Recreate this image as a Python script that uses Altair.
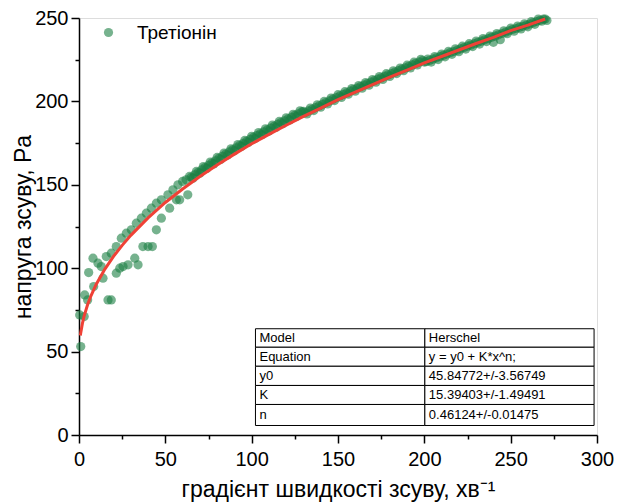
import altair as alt
import pandas as pd

series_name = "Третіонін"

# scattered measurements at low shear rate
low_x = [0.4, 1.0, 3.0, 3.3, 5.0, 5.6, 8.1, 8.5, 11.0, 12.9, 13.9, 15.8, 16.8, 18.7,
         18.7, 21.6, 23.6, 25.5, 28.4, 21.6, 24.5, 27.4, 30.3, 32.3, 34.2, 33.2,
         37.0, 40.0, 42.5, 36.1, 39.0, 41.9, 44.8, 44.8, 47.7, 47.7, 51.5, 52.5,
         54.4, 57.3, 56.4, 58.3, 60.0, 62.0, 63.0]
low_y = [72, 53, 71, 84, 81, 97.4, 106, 89, 103, 101, 94, 107, 81, 81,
         109, 97, 100, 101, 102, 113, 118, 121, 123, 106, 102, 127,
         113, 113, 113, 130, 133, 136, 123, 139, 130, 141, 144, 136,
         147, 150, 141, 141, 152, 153, 144]

# dense band of measurements (even shear rates)
band_x = [64, 66, 68, 70, 72, 74, 76, 78, 80, 82, 84, 86, 88, 90, 92, 94, 96, 98,
          100, 102, 104, 106, 108, 110, 112, 114, 116, 118, 120, 122, 124, 126, 128,
          130, 132, 134, 136, 138, 140, 142, 144, 146, 148, 150, 152, 154, 156, 158,
          160, 162, 164, 166, 168, 170, 172, 174, 176, 178, 180, 182, 184, 186, 188,
          190, 192, 194, 196, 198, 200, 202, 204, 206, 208, 210, 212, 214, 216, 218,
          220, 222, 224, 226, 228, 230, 232, 234, 236, 238, 240, 242, 244, 246, 248,
          250, 252, 254, 256, 258, 260, 262, 264, 266, 268, 270, 271]
band_y = [155.0, 154.0, 158.0, 157.0, 160.9, 159.8, 163.6, 162.5, 166.4, 165.2,
          169.0, 167.8, 171.6, 170.4, 174.1, 172.9, 176.6, 175.4, 179.1, 177.7,
          181.3, 180.0, 183.6, 182.2, 185.8, 184.4, 188.0, 186.6, 190.2, 188.8,
          192.3, 190.9, 194.4, 194.0, 192.5, 196.0, 194.5, 198.0, 196.5, 200.0,
          198.5, 202.0, 200.5, 204.0, 202.4, 205.8, 204.3, 207.7, 206.1, 209.5,
          207.9, 211.3, 209.7, 213.1, 211.5, 214.9, 213.2, 216.6, 215.0, 218.3,
          216.7, 220.0, 218.4, 221.7, 220.1, 223.5, 221.9, 225.2, 223.6, 225.4,
          223.6, 226.9, 225.1, 228.4, 226.7, 230.0, 228.2, 231.5, 229.8, 233.1,
          231.4, 234.6, 232.9, 236.2, 234.4, 237.7, 235.9, 239.2, 235.4, 240.7,
          237.0, 242.3, 240.6, 243.9, 242.1, 245.2, 243.4, 246.5, 244.7, 247.9,
          246.2, 249.4, 248.1, 249.4, 248.5]

# dense band of measurements (odd shear rates)
band2_x = [65, 67, 69, 71, 73, 75, 77, 79, 81, 83, 85, 87, 89, 91, 93, 95, 97, 99,
           101, 103, 105, 107, 109, 111, 113, 115, 117, 119, 121, 123, 125, 127, 129,
           131, 133, 135, 137, 139, 141, 143, 145, 147, 149, 151, 153, 155, 157, 159,
           161, 163, 165, 167, 169, 171, 173, 175, 177, 179, 181, 183, 185, 187, 189,
           191, 193, 195, 197, 199, 201, 203, 205, 207, 209, 211, 213, 215, 217, 219,
           221, 223, 225, 227, 229, 231, 233, 235, 237, 239, 241, 243, 245, 247, 249,
           251, 253, 255, 257, 259, 261, 263, 265, 267, 269]
band2_y = [154.5, 156.0, 157.5, 158.9, 160.3, 161.7, 163.0, 164.4, 165.8, 167.1,
           168.4, 169.7, 171.0, 172.2, 173.5, 174.7, 176.0, 177.2, 178.4, 179.5,
           180.6, 181.8, 182.9, 184.0, 185.1, 186.2, 187.3, 188.4, 189.5, 190.5,
           191.6, 192.6, 193.7, 193.3, 194.3, 195.3, 196.3, 197.3, 198.3, 199.3,
           200.3, 201.3, 202.3, 203.3, 204.2, 205.1, 206.1, 207.0, 207.9, 208.8,
           209.7, 210.6, 211.5, 212.4, 213.3, 214.1, 215.0, 215.9, 216.7, 217.6,
           218.4, 219.3, 220.1, 221.0, 221.9, 222.8, 223.6, 224.5, 223.8, 224.6,
           225.3, 226.1, 226.8, 227.6, 228.4, 229.2, 229.9, 230.7, 231.5, 232.3,
           233.1, 233.8, 234.6, 235.4, 236.1, 236.9, 237.6, 238.4, 239.1, 239.9,
           240.7, 241.5, 242.3, 243.1, 243.7, 244.4, 245.0, 245.7, 246.4, 247.1,
           247.9, 248.6, 249.3]

# fitted Herschel curve
fit_x = [0.8, 1, 2, 3, 5, 7, 10, 15, 20, 25, 30, 40, 50, 60, 70, 80, 90, 100, 110,
         120, 130, 140, 150, 160, 170, 180, 190, 200, 210, 220, 230, 240, 250, 260, 270]
fit_y = [59.7, 61.2, 67.0, 71.4, 78.2, 83.6, 90.4, 99.5, 107.1, 113.7, 119.7, 130.2,
         139.4, 147.5, 155.0, 161.9, 168.4, 174.6, 180.2, 185.7, 191.0, 196.0, 201.0,
         205.6, 210.1, 214.5, 218.7, 223.1, 226.9, 230.8, 234.7, 238.4, 242.4, 245.7, 249.4]

# fit-result table
table_labels = ["Model", "Equation", "y0", "K", "n"]
table_values = ["Herschel", "y = y0 + K*x^n;", "45.84772+/-3.56749",
                "15.39403+/-1.49491", "0.46124+/-0.01475"]
table_row_edges = [63.7, 52.6, 41.2, 29.7, 18.3, 5.7]
table_cols = [102.2, 200.3, 298.3]

FONT = "Liberation Sans"

all_x = low_x + band_x + band2_x
all_y = low_y + band_y + band2_y
pts = pd.DataFrame({"x": all_x, "y": all_y, "series": [series_name] * len(all_x)})
fit = pd.DataFrame({"x": fit_x, "y": fit_y})

cells = []
for i, (lab, val) in enumerate(zip(table_labels, table_values)):
    top, bot = table_row_edges[i], table_row_edges[i + 1]
    cells.append({"x": table_cols[0], "x2": table_cols[1], "y": bot, "y2": top,
                  "ym": (top + bot) / 2, "text": lab})
    cells.append({"x": table_cols[1], "x2": table_cols[2], "y": bot, "y2": top,
                  "ym": (top + bot) / 2, "text": val})
cells = pd.DataFrame(cells)


def tick_cond(big, small):
    return {"condition": {"test": "datum.value % 50 === 0", "value": big}, "value": small}


common = dict(labelExpr="datum.value % 50 === 0 ? datum.label : ''",
              tickSize=tick_cond(8, 4), grid=False, domainColor="black",
              tickColor="black", domainWidth=1.5, tickWidth=1.5, labelColor="black",
              labelFont=FONT, labelFontSize=20, titleFont=FONT, titleFontSize=23,
              titleFontWeight="normal", titleColor="black", labelFlush=False)
xaxis = alt.Axis(values=list(range(0, 301, 25)), title="градієнт швидкості зсуву, хв⁻¹",
                 labelPadding=6, titlePadding=9, **common)
yaxis = alt.Axis(values=list(range(0, 251, 25)), title="напруга зсуву, Pa",
                 labelPadding=3, titlePadding=-1, **common)
xs = alt.Scale(domain=[0, 300], nice=False, zero=False)
ys = alt.Scale(domain=[0, 250], nice=False, zero=False)

scatter = alt.Chart(pts).mark_circle(size=85, opacity=0.6).encode(
    x=alt.X("x:Q", scale=xs, axis=xaxis),
    y=alt.Y("y:Q", scale=ys, axis=yaxis),
    color=alt.Color("series:N",
                    scale=alt.Scale(domain=[series_name], range=["#1b7f42"]),
                    legend=alt.Legend(orient="none", legendX=20, legendY=5, title=None,
                                      labelFont=FONT, labelFontSize=19, labelColor="black",
                                      symbolSize=85, symbolOpacity=0.6, symbolType="circle",
                                      symbolStrokeWidth=0, labelOffset=19)),
)

line = alt.Chart(fit).mark_line(color="#ef4136", strokeWidth=3).encode(
    x=alt.X("x:Q", scale=xs, axis=xaxis),
    y=alt.Y("y:Q", scale=ys, axis=yaxis),
)

rects = alt.Chart(cells).mark_rect(fill="white", stroke="black", strokeWidth=1).encode(
    x=alt.X("x:Q", scale=xs, axis=xaxis), x2="x2:Q",
    y=alt.Y("y:Q", scale=ys, axis=yaxis), y2="y2:Q",
)

texts = alt.Chart(cells).mark_text(align="left", baseline="middle", dx=4, font=FONT,
                                   fontSize=13, color="black").encode(
    x=alt.X("x:Q", scale=xs, axis=xaxis),
    y=alt.Y("ym:Q", scale=ys, axis=yaxis),
    text="text:N",
)

chart = alt.layer(scatter, line, rects, texts).properties(
    width=518, height=417,
    autosize=alt.AutoSizeParams(type="none"),
    padding={"left": 79, "top": 18, "right": 20, "bottom": 69},
).configure_view(stroke=None).configure(background="white")

chart.save("out.html", embed_options={"renderer": "svg", "actions": False})
